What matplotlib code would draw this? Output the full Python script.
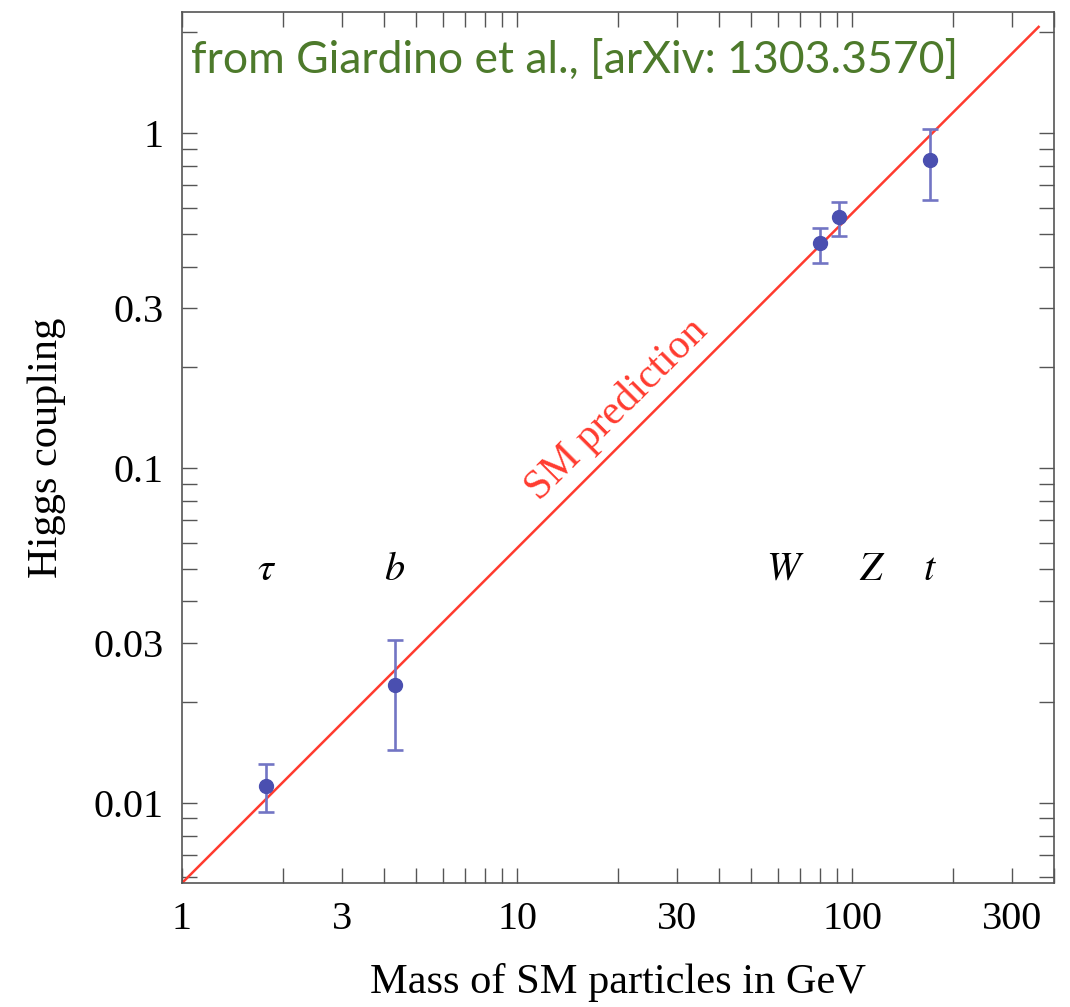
import matplotlib
matplotlib.use("Agg")
import matplotlib.pyplot as plt
from matplotlib.ticker import FixedLocator, LogLocator, NullFormatter, FixedFormatter

# particle data
names = [r"$\tau$", r"$b$", r"$W$", r"$Z$", r"$t$"]
masses = [1.777, 4.32, 80.2, 91.4, 171.0]
coupling = [0.01125, 0.0225, 0.47, 0.561, 0.831]
err_lo = [0.0094, 0.0144, 0.409, 0.493, 0.631]
err_hi = [0.01306, 0.0307, 0.52, 0.622, 1.028]
label_x = [1.79, 4.32, 63.0, 114.5, 171.0]
label_y = 0.05

vev = 173.3  # SM prediction: coupling = mass / v
line_x = [1.0, 360.0]

xticks = [1, 3, 10, 30, 100, 300]
yticks = [0.01, 0.03, 0.1, 0.3, 1]

serif = "Liberation Serif"
plt.rcParams["mathtext.fontset"] = "stix"

fig = plt.figure(figsize=(10.70, 10.07), dpi=100)
ax = fig.add_axes([0.170, 0.123, 0.815, 0.865])
ax.set_xscale("log")
ax.set_yscale("log")
ax.set_xlim(1, 400)
ax.set_ylim(1 / vev, 2.3)

ax.plot(line_x, [m / vev for m in line_x], color="#ff3b2f", lw=1.8, zorder=2)

yerr = [[c - lo for c, lo in zip(coupling, err_lo)],
        [hi - c for c, hi in zip(coupling, err_hi)]]
ax.errorbar(masses, coupling, yerr=yerr, fmt="o", color="#4a4fb0",
            ecolor="#7275c4", elinewidth=1.9, capsize=6, capthick=1.9,
            markersize=10, zorder=3)

for n, x in zip(names, label_x):
    ax.text(x, label_y, n, fontsize=29, ha="center", va="center")

ax.text(19.8, 0.150, "SM prediction", color="#ff3b2f", fontsize=30,
        family=serif, rotation=45, ha="center", va="center",
        rotation_mode="anchor")

ax.text(0.010, 0.968, "from Giardino et al., [arXiv: 1303.3570]",
        transform=ax.transAxes, color="#4d7a2b", fontsize=32,
        family="Lato", ha="left", va="top")

ax.xaxis.set_major_locator(FixedLocator(xticks))
ax.xaxis.set_major_formatter(FixedFormatter([str(t) for t in xticks]))
ax.yaxis.set_major_locator(FixedLocator(yticks))
ax.yaxis.set_major_formatter(FixedFormatter(["0.01", "0.03", "0.1", "0.3", "1"]))
for axis in (ax.xaxis, ax.yaxis):
    axis.set_minor_locator(LogLocator(base=10, subs=range(2, 10), numticks=20))
    axis.set_minor_formatter(NullFormatter())

ax.tick_params(which="both", direction="in", top=True, right=True,
               length=11, width=1.0, color="#555555", labelsize=29, pad=13)
for lab in ax.get_xticklabels() + ax.get_yticklabels():
    lab.set_family(serif)
for s in ax.spines.values():
    s.set_color("#555555")
    s.set_linewidth(1.2)

ax.set_xlabel("Mass of SM particles in GeV", family=serif, fontsize=30.5, labelpad=18)
ax.set_ylabel("Higgs coupling", family=serif, fontsize=30.5, labelpad=20)

fig.savefig("out.png", dpi=100)
